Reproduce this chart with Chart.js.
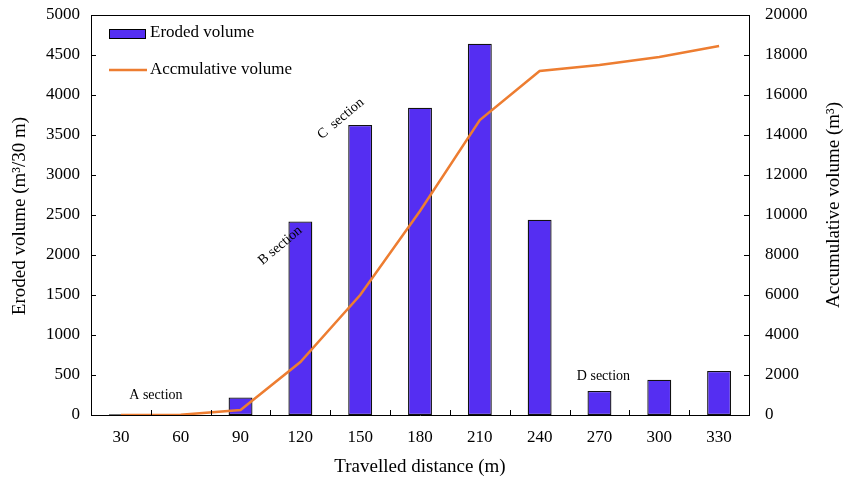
<!DOCTYPE html>
<html>
<head>
<meta charset="utf-8">
<script src="https://cdn.jsdelivr.net/npm/chart.js@4/dist/chart.umd.min.js"></script>
<style>
  html, body { margin: 0; padding: 0; background: #fff; }
  #wrap { width: 844px; height: 478px; }
</style>
</head>
<body>
<div id="wrap"><canvas id="chart" width="844" height="478"></canvas></div>
<script>
const distances = ['30', '60', '90', '120', '150', '180', '210', '240', '270', '300', '330'];
const erodedVolume = [10, 0, 220, 2420, 3625, 3840, 4640, 2440, 300, 440, 550];
const accumulativeVolume = [0, 10, 250, 2650, 6000, 10200, 14750, 17200, 17500, 17900, 18450];
const sectionNotes = [
    { text: 'A section', at: '30', value: 250, angle: 0, dx: 35 },
    { text: 'B section', at: '120', value: 2330, angle: -40, dx: 0 },
    { text: 'C  section', at: '150', value: 3930, angle: -40, dx: 2 },
    { text: 'D section', at: '270', value: 480, angle: 0, dx: 4 }
];

const serif = '"Liberation Serif", "DejaVu Serif", serif';
const barColor = '#552EF2';
const lineColor = '#ED7D31';

// inward tick marks, top frame, y titles, section labels and the legend
const decorations = {
    id: 'decorations',
    afterDraw(chart) {
        const ctx = chart.ctx;
        const area = chart.chartArea;
        const x = chart.scales.x;
        const yL = chart.scales.y;
        const yR = chart.scales.y1;
        ctx.save();
        ctx.strokeStyle = '#000';
        ctx.lineWidth = 1;
        ctx.beginPath();
        ctx.moveTo(area.left, area.top + 0.5);
        ctx.lineTo(area.right, area.top + 0.5);
        for (let i = 1; i < distances.length; i++) {
            const px = Math.round((x.getPixelForValue(i - 1) + x.getPixelForValue(i)) / 2) + 0.5;
            ctx.moveTo(px, area.bottom);
            ctx.lineTo(px, area.bottom - 5);
        }
        yL.ticks.forEach(t => {
            const py = Math.round(yL.getPixelForValue(t.value)) + 0.5;
            ctx.moveTo(area.left, py);
            ctx.lineTo(area.left + 5, py);
        });
        yR.ticks.forEach(t => {
            const py = Math.round(yR.getPixelForValue(t.value)) + 0.5;
            ctx.moveTo(area.right, py);
            ctx.lineTo(area.right - 5, py);
        });
        ctx.stroke();

        ctx.fillStyle = '#000';
        ctx.font = '19px ' + serif;
        ctx.textAlign = 'center';
        ctx.textBaseline = 'middle';
        [[20, 216, 'Eroded volume (m³/30 m)'], [834, 205, 'Accumulative volume (m³)']].forEach(([tx, ty, s]) => {
            ctx.save();
            ctx.translate(tx, ty);
            ctx.rotate(-Math.PI / 2);
            ctx.fillText(s, 0, 0);
            ctx.restore();
        });

        ctx.font = '14px ' + serif;
        sectionNotes.forEach(n => {
            const px = x.getPixelForValue(distances.indexOf(n.at)) + n.dx;
            const py = yL.getPixelForValue(n.value);
            ctx.save();
            ctx.translate(px, py);
            ctx.rotate(n.angle * Math.PI / 180);
            ctx.textAlign = n.angle ? 'right' : 'center';
            ctx.textBaseline = 'middle';
            ctx.fillText(n.text, 0, 0);
            ctx.restore();
        });

        ctx.font = '17px ' + serif;
        ctx.textAlign = 'left';
        ctx.textBaseline = 'middle';
        const lx = area.left + 18;
        ctx.fillStyle = barColor;
        ctx.fillRect(lx, area.top + 14, 36, 9);
        ctx.strokeRect(lx + 0.5, area.top + 14.5, 36, 9);
        ctx.fillStyle = '#000';
        ctx.fillText('Eroded volume', lx + 41, area.top + 18);
        ctx.strokeStyle = lineColor;
        ctx.lineWidth = 2.5;
        ctx.beginPath();
        ctx.moveTo(lx, area.top + 55);
        ctx.lineTo(lx + 38, area.top + 55);
        ctx.stroke();
        ctx.fillText('Accmulative volume', lx + 41, area.top + 55);
        ctx.restore();
    }
};

const plainTick = v => String(v);
const fitY = w => s => { s.width = w; s.paddingTop = 0; s.paddingBottom = 0; };

new Chart(document.getElementById('chart'), {
    type: 'bar',
    data: {
        labels: distances,
        datasets: [
            {
                type: 'line',
                label: 'Accmulative volume',
                data: accumulativeVolume,
                yAxisID: 'y1',
                borderColor: lineColor,
                borderWidth: 2.5,
                pointRadius: 0,
                tension: 0,
                fill: false,
                order: 0
            },
            {
                label: 'Eroded volume',
                data: erodedVolume,
                yAxisID: 'y',
                backgroundColor: barColor,
                borderColor: '#111',
                borderWidth: 1.3,
                borderSkipped: false,
                categoryPercentage: 0.4,
                barPercentage: 1,
                order: 1
            }
        ]
    },
    options: {
        responsive: false,
        animation: false,
        layout: { padding: { top: 15, left: 0, right: 0, bottom: 0 } },
        plugins: { legend: { display: false }, tooltip: { enabled: false } },
        scales: {
            x: {
                offset: true,
                grid: { display: false },
                border: { display: true, color: '#000', width: 1 },
                ticks: { color: '#000', font: { family: serif, size: 17 }, padding: 4, maxRotation: 0 },
                title: { display: true, text: 'Travelled distance (m)', color: '#000', font: { family: serif, size: 19 }, padding: { top: 4, bottom: 0 } },
                afterFit: s => { s.height = 63; }
            },
            y: {
                position: 'left',
                min: 0,
                max: 5000,
                grid: { display: false },
                border: { display: true, color: '#000', width: 1 },
                ticks: { stepSize: 500, color: '#000', font: { family: serif, size: 17 }, padding: 3, callback: plainTick },
                afterFit: fitY(91)
            },
            y1: {
                position: 'right',
                min: 0,
                max: 20000,
                grid: { display: false },
                border: { display: true, color: '#000', width: 1 },
                ticks: { stepSize: 2000, color: '#000', font: { family: serif, size: 17 }, padding: 8, callback: plainTick },
                afterFit: fitY(95)
            }
        }
    },
    plugins: [decorations]
});
</script>
</body>
</html>
